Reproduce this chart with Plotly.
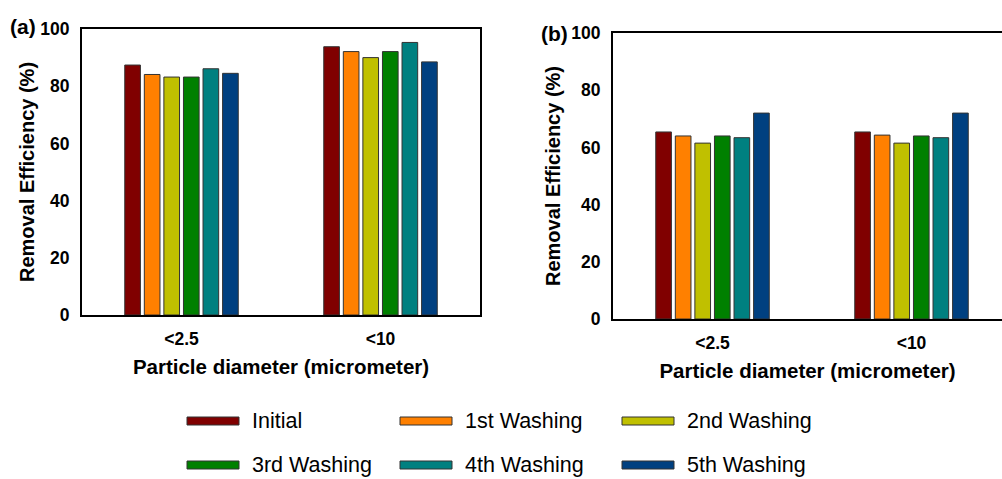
import plotly.graph_objects as go

categories = ["<2.5", "<10"]
series_names = ["Initial", "1st Washing", "2nd Washing", "3rd Washing", "4th Washing", "5th Washing"]
colors = ["#800000", "#ff8000", "#c0c000", "#008000", "#008080", "#004080"]

# Panel (a) values
values_a = {
    "Initial":     [87.4, 93.8],
    "1st Washing": [84.1, 92.1],
    "2nd Washing": [83.2, 90.0],
    "3rd Washing": [83.2, 92.1],
    "4th Washing": [86.1, 95.3],
    "5th Washing": [84.5, 88.5],
}
# Panel (b) values
values_b = {
    "Initial":     [65.4, 65.4],
    "1st Washing": [64.0, 64.3],
    "2nd Washing": [61.5, 61.5],
    "3rd Washing": [64.0, 64.0],
    "4th Washing": [63.4, 63.4],
    "5th Washing": [72.0, 72.0],
}
y_ticks = [0, 20, 40, 60, 80, 100]

W, H = 1002, 479
def px(x):
    return x / W
def py(y):
    return 1 - y / H

fig = go.Figure()
for name, col in zip(series_names, colors):
    fig.add_trace(go.Bar(x=categories, y=values_a[name], name=name, marker=dict(color=col, line=dict(color="#333333", width=1)),
                         xaxis="x", yaxis="y", showlegend=False))
    fig.add_trace(go.Bar(x=categories, y=values_b[name], name=name, marker=dict(color=col, line=dict(color="#333333", width=1)),
                         xaxis="x2", yaxis="y2", showlegend=False))

tickfont = dict(family="Liberation Sans, Arial", size=17.5, color="black", weight="bold")
titlefont_x = dict(family="Liberation Sans, Arial", size=20.5, color="black", weight="bold")
titlefont_y = dict(family="Liberation Sans, Arial", size=20, color="black", weight="bold")

common_x = dict(type="category", showgrid=False, zeroline=False, showline=True, linecolor="black", linewidth=2,
                ticks="", tickfont=tickfont, ticklabelstandoff=7, automargin=False)
common_y = dict(range=[0, 100], tickvals=y_ticks, showgrid=False, zeroline=False, showline=True, linecolor="black",
                linewidth=2, ticks="", tickfont=tickfont, ticklabelstandoff=7, automargin=False)

fig.update_layout(
    width=W, height=H, margin=dict(l=0, r=0, t=0, b=0),
    paper_bgcolor="white", plot_bgcolor="white",
    barmode="group", bargap=0.41, bargroupgap=0.2,
    xaxis=dict(common_x, domain=[px(82), px(480)], range=[-0.5, 1.5], anchor="y", mirror=True,
               title=dict(text="Particle diameter (micrometer)", font=titlefont_x, standoff=12)),
    yaxis=dict(common_y, domain=[py(315), py(29)], anchor="x", mirror=True,
               title=dict(text="Removal Efficiency (%)", font=titlefont_y, standoff=0)),
    xaxis2=dict(common_x, domain=[px(613), 1.0], range=[-0.5, -0.5 + (W - 613) / 199.0], anchor="y2", mirror=True,
                title=dict(text="Particle diameter (micrometer)", font=titlefont_x, standoff=12)),
    yaxis2=dict(common_y, domain=[py(319), py(33)], anchor="x2", mirror=False,
                title=dict(text="Removal Efficiency (%)", font=titlefont_y, standoff=5)),
)

# Panel labels
labfont = dict(family="Liberation Sans, Arial", size=21, color="black", weight="bold")
fig.add_annotation(text="(a)", x=px(8), y=py(27), xref="paper", yref="paper", xanchor="left", yanchor="middle",
                   showarrow=False, font=labfont)
fig.add_annotation(text="(b)", x=px(539), y=py(33), xref="paper", yref="paper", xanchor="left", yanchor="middle",
                   showarrow=False, font=labfont)

# Custom legend (wide swatches)
legend_pos = [(187, 421), (400, 421), (622, 421), (187, 465), (400, 465), (622, 465)]
legfont = dict(family="Liberation Sans, Arial", size=21.5, color="black")
for name, col, (lx, ly) in zip(series_names, colors, legend_pos):
    fig.add_shape(type="rect", xref="paper", yref="paper", x0=px(lx), x1=px(lx + 52), y0=py(ly + 4), y1=py(ly - 4),
                  fillcolor=col, line=dict(color="#333333", width=1))
    fig.add_annotation(text=name, x=px(lx + 63), y=py(ly), xref="paper", yref="paper", xanchor="left",
                       yanchor="middle", showarrow=False, font=legfont)

fig.write_html("out.html")
